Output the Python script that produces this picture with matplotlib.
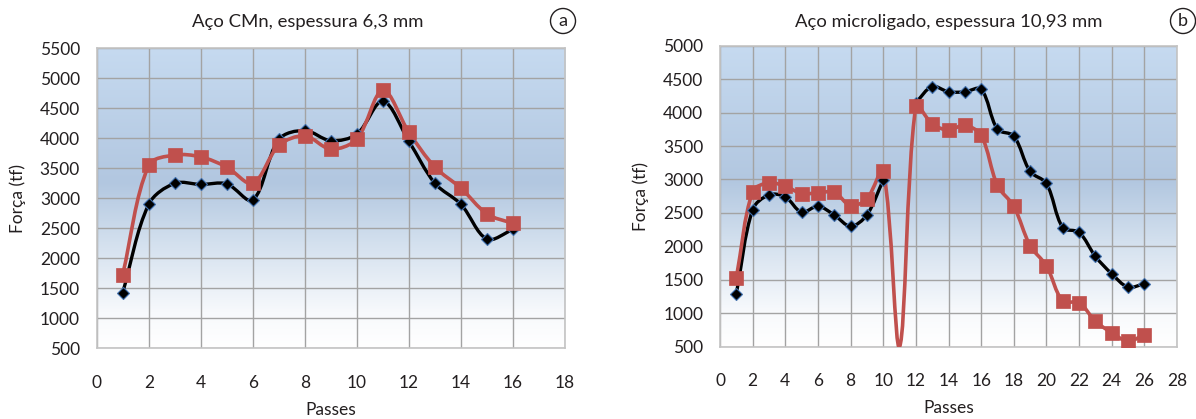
import numpy as np
import matplotlib
matplotlib.use("Agg")
import matplotlib.pyplot as plt
from matplotlib.path import Path
from matplotlib.patches import PathPatch
from matplotlib.colors import LinearSegmentedColormap

plt.rcParams['font.family'] = ['Lato', 'DejaVu Sans']

# ---- data ----
passes_a = [1, 2, 3, 4, 5, 6, 7, 8, 9, 10, 11, 12, 13, 14, 15, 16]
black_a = [1430, 2900, 3250, 3230, 3240, 2970, 3980, 4130, 3960, 4070, 4620, 3950, 3250, 2900, 2320, 2480]
red_a = [1730, 3550, 3720, 3690, 3520, 3250, 3880, 4040, 3820, 3990, 4800, 4100, 3520, 3170, 2740, 2580]

passes_b = list(range(1, 27))
black_b = [1290, 2550, 2770, 2740, 2510, 2600, 2470, 2300, 2470, 2990, np.nan, 4150, 4390, 4310,
           4310, 4350, 3750, 3650, 3120, 2940, 2280, 2210, 1850, 1590, 1390, 1440]
red_b = [1530, 2820, 2950, 2900, 2790, 2800, 2810, 2610, 2710, 3130, 500, 4100, 3830, 3740,
         3810, 3660, 2910, 2600, 2010, 1710, 1180, 1160, 880, 710, 580, 680]
red_b_hidden_marker = [11]

title_a = "Aço CMn, espessura 6,3 mm"
title_b = "Aço microligado, espessura 10,93 mm"
ylabel = "Força (tf)"
xlabel = "Passes"

RED = "#c0504d"
BLACK = "#000000"
TXT = "#231f20"

cmap = LinearSegmentedColormap.from_list(
    "bg", [(0.0, "#ffffff"), (0.12, "#f7f9fc"), (0.35, "#d3e0ee"),
           (0.55, "#b2c7e0"), (1.0, "#c6daf0")])


def smooth_path(ax, x, y, t=1.0 / 3.0):
    """Excel-like smoothed line: Bezier segments whose control points are
    scaled by the relative segment lengths (measured in screen space)."""
    x = np.asarray(x, float)
    y = np.asarray(y, float)
    ok = ~np.isnan(y)
    segs, cur = [], []
    for i in range(len(x)):
        if ok[i]:
            cur.append(i)
        else:
            if cur:
                segs.append(cur)
            cur = []
    if cur:
        segs.append(cur)
    verts, codes = [], []
    for s in segs:
        P = ax.transData.transform(np.column_stack([x[s], y[s]]))
        n = len(P)
        verts.append(P[0])
        codes.append(Path.MOVETO)
        # control points per point
        cin = [None] * n
        cout = [None] * n
        for i in range(n):
            p0 = P[max(i - 1, 0)]
            p1 = P[i]
            p2 = P[min(i + 1, n - 1)]
            d01 = np.hypot(*(p1 - p0))
            d12 = np.hypot(*(p2 - p1))
            tot = d01 + d12
            if tot == 0:
                cin[i] = p1
                cout[i] = p1
                continue
            fa = t * d01 / tot
            fb = t * d12 / tot
            cin[i] = p1 - fa * (p2 - p0)
            cout[i] = p1 + fb * (p2 - p0)
        for i in range(n - 1):
            verts += [cout[i], cin[i + 1], P[i + 1]]
            codes += [Path.CURVE4] * 3
    return Path(verts, codes)


def style_axes(ax, xmax, ymin, ymax, ystep):
    ax.set_xlim(0, xmax)
    ax.set_ylim(ymin, ymax)
    ax.set_xticks(np.arange(0, xmax + 1, 2))
    ax.set_yticks(np.arange(ymin, ymax + 1, ystep))
    ax.patch.set_visible(False)
    ax.imshow(np.linspace(0, 1, 256).reshape(-1, 1), cmap=cmap, origin="lower",
              extent=[0, 1, 0, 1], transform=ax.transAxes, aspect="auto", zorder=0)
    ax.set_xlim(0, xmax)
    ax.set_ylim(ymin, ymax)
    ax.set_axisbelow(True)
    ax.grid(True, color="#a3a3a3", lw=1.0)
    for sp in ax.spines.values():
        sp.set_color("#c4c4c4")
        sp.set_linewidth(1.2)
    ax.tick_params(axis="both", length=0, labelsize=12.5, colors=TXT)
    ax.tick_params(axis="x", pad=19)
    ax.tick_params(axis="y", pad=12)
    ax.set_xlabel(xlabel, fontsize=12.5, color=TXT, labelpad=8)
    ax.set_ylabel(ylabel, fontsize=12.5, color=TXT, labelpad=10)


def draw_series(ax, x, y, color, lw, marker, ms, mec, mew, hide=()):
    p = smooth_path(ax, x, y)
    patch = PathPatch(p, fill=False, edgecolor=color, lw=lw, zorder=3,
                      capstyle="round", joinstyle="round", transform=None)
    patch.set_clip_path(ax.patch)
    ax.add_artist(patch)
    mx = [xi for xi, yi in zip(x, y) if xi not in hide and not np.isnan(yi)]
    my = [yi for xi, yi in zip(x, y) if xi not in hide and not np.isnan(yi)]
    ax.plot(mx, my, ls="none", marker=marker, ms=ms, mfc=color, mec=mec, mew=mew, zorder=4)


fig = plt.figure(figsize=(11.96, 4.19), dpi=100)
W, H = 1196, 419

axa = fig.add_axes([96.7 / W, 1 - 348.3 / H, (565 - 96.7) / W, 300 / H])
style_axes(axa, 18, 500, 5500, 500)
draw_series(axa, passes_a, black_a, BLACK, 2.4, "D", 6.5, "#3f6fae", 0.8)
draw_series(axa, passes_a, red_a, RED, 2.6, "s", 9.5, RED, 0.5)

axb = fig.add_axes([720 / W, 1 - 346.7 / H, (1177 - 720) / W, 301 / H])
style_axes(axb, 28, 500, 5000, 500)
draw_series(axb, passes_b, black_b, BLACK, 2.4, "D", 6.5, "#3f6fae", 0.8)
draw_series(axb, passes_b, red_b, RED, 2.6, "s", 9.5, RED, 0.5, hide=red_b_hidden_marker)

fig.text(308 / W, 1 - 22 / H, title_a, ha="center", va="center", fontsize=13.3, color=TXT)
fig.text(949 / W, 1 - 22 / H, title_b, ha="center", va="center", fontsize=13.3, color=TXT)
for lab, xc in (("a", 563), ("b", 1183)):
    fig.text(xc / W, 1 - 21 / H, lab, ha="center", va="center", fontsize=13, color=TXT,
             bbox=dict(boxstyle="circle,pad=0.25", fc="white", ec=TXT, lw=1.0))

fig.savefig("out.png", dpi=100, facecolor="white")
